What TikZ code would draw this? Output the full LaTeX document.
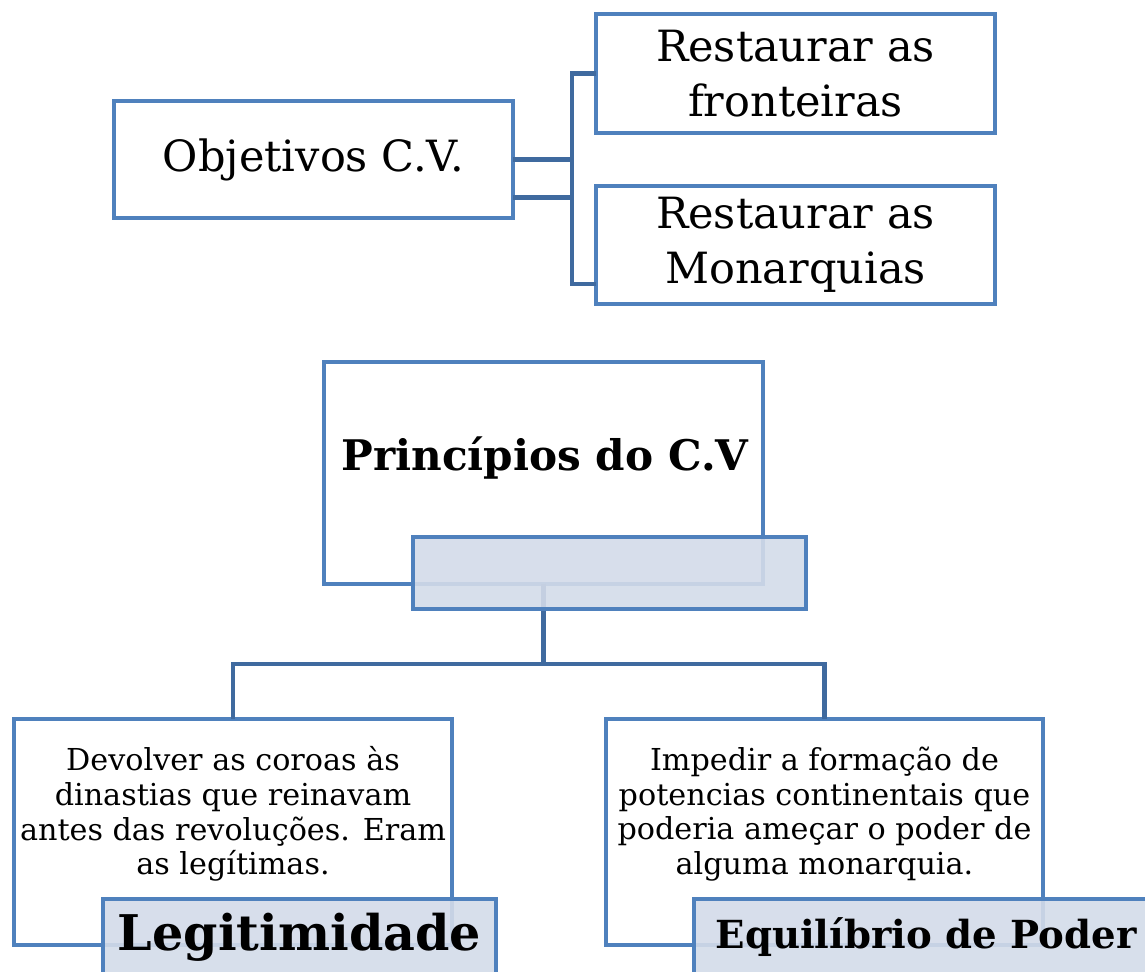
\documentclass[tikz,border=0pt]{standalone}
\usepackage{fontspec}
\setmainfont{DejaVu Serif}
\usetikzlibrary{positioning,calc}
\definecolor{boxline}{HTML}{4F81BD}
\definecolor{connline}{HTML}{3F6A9F}
\definecolor{labfill}{HTML}{D3DBE9}
\begin{document}
\begin{tikzpicture}[
  x=0.02cm, y=-0.02cm,
  box/.style={draw=boxline, line width=2.7pt, fill=white, inner sep=0pt, outer sep=0pt, align=center},
  labbox/.style={draw=boxline, line width=2.7pt, fill=labfill, fill opacity=0.9, text opacity=1, inner sep=0pt, outer sep=0pt, align=center},
  conn/.style={draw=connline, line width=2.7pt},
  big/.style={font=\fontsize{24.5}{31}\selectfont},
  body/.style={font=\fontsize{17.2}{19.8}\selectfont, align=center},
]
  \useasboundingbox (0,0) rectangle (1145,971);
  \clip (0,0) rectangle (1145,971);

  % Objetivos
  \node[box, big, minimum width=7.98cm, minimum height=2.34cm] (obj) at (313.5,159.5) {Objetivos C.V.};
  \node[box, big, minimum width=7.98cm, minimum height=2.38cm] (fr) at (795.5,73.5) {Restaurar as\\fronteiras};
  \node[box, big, minimum width=7.98cm, minimum height=2.36cm] (mon) at (795.5,245) {Restaurar as\\Monarquias};

  \draw[conn] ($(obj.east)+(0,38)$) -- ++(59,0) |- (fr.west);
  \draw[conn] (obj.east) -- ++(59,0) |- ($(mon.west)+(0,39)$);

  % Principios
  \node[box, minimum width=8.78cm, minimum height=4.44cm] (pri) at (543.5,473) {};
  \node[font=\fontsize{24}{29}\selectfont\bfseries] (pritxt) at (545,458) {Princípios do C.V};
  \node[box, minimum width=8.76cm, minimum height=4.52cm] (legbox) at (233,832) {};
  \node[box, minimum width=8.74cm, minimum height=4.52cm] (eqbox) at (824.5,832) {};

  \draw[conn] (pri.south) -- ++(0,80) -| (legbox.north);
  \draw[conn] (pri.south) -- ++(0,80) -| (eqbox.north);

  \node[labbox, minimum width=7.86cm, minimum height=1.44cm] (prilab) at (609.5,573) {};

  % Textos
  \node[body] (legtxt) at (233,814) {Devolver as coroas às\\dinastias que reinavam\\antes das revoluções. Eram\\as legítimas.};
  \node[body] (eqtxt) at (824.5,814) {Impedir a formação de\\potencias continentais que\\poderia ameçar o poder de\\alguma monarquia.};

  \node[labbox, minimum width=7.86cm, minimum height=1.52cm, font=\fontsize{28}{33}\selectfont\bfseries] (leglab) at (299.5,937) {Legitimidade};
  \node[labbox, minimum width=9.28cm, minimum height=1.52cm, font=\fontsize{22}{27}\selectfont\bfseries] (eqlab) at (926,937) {Equilíbrio de Poder};
\end{tikzpicture}
\end{document}
